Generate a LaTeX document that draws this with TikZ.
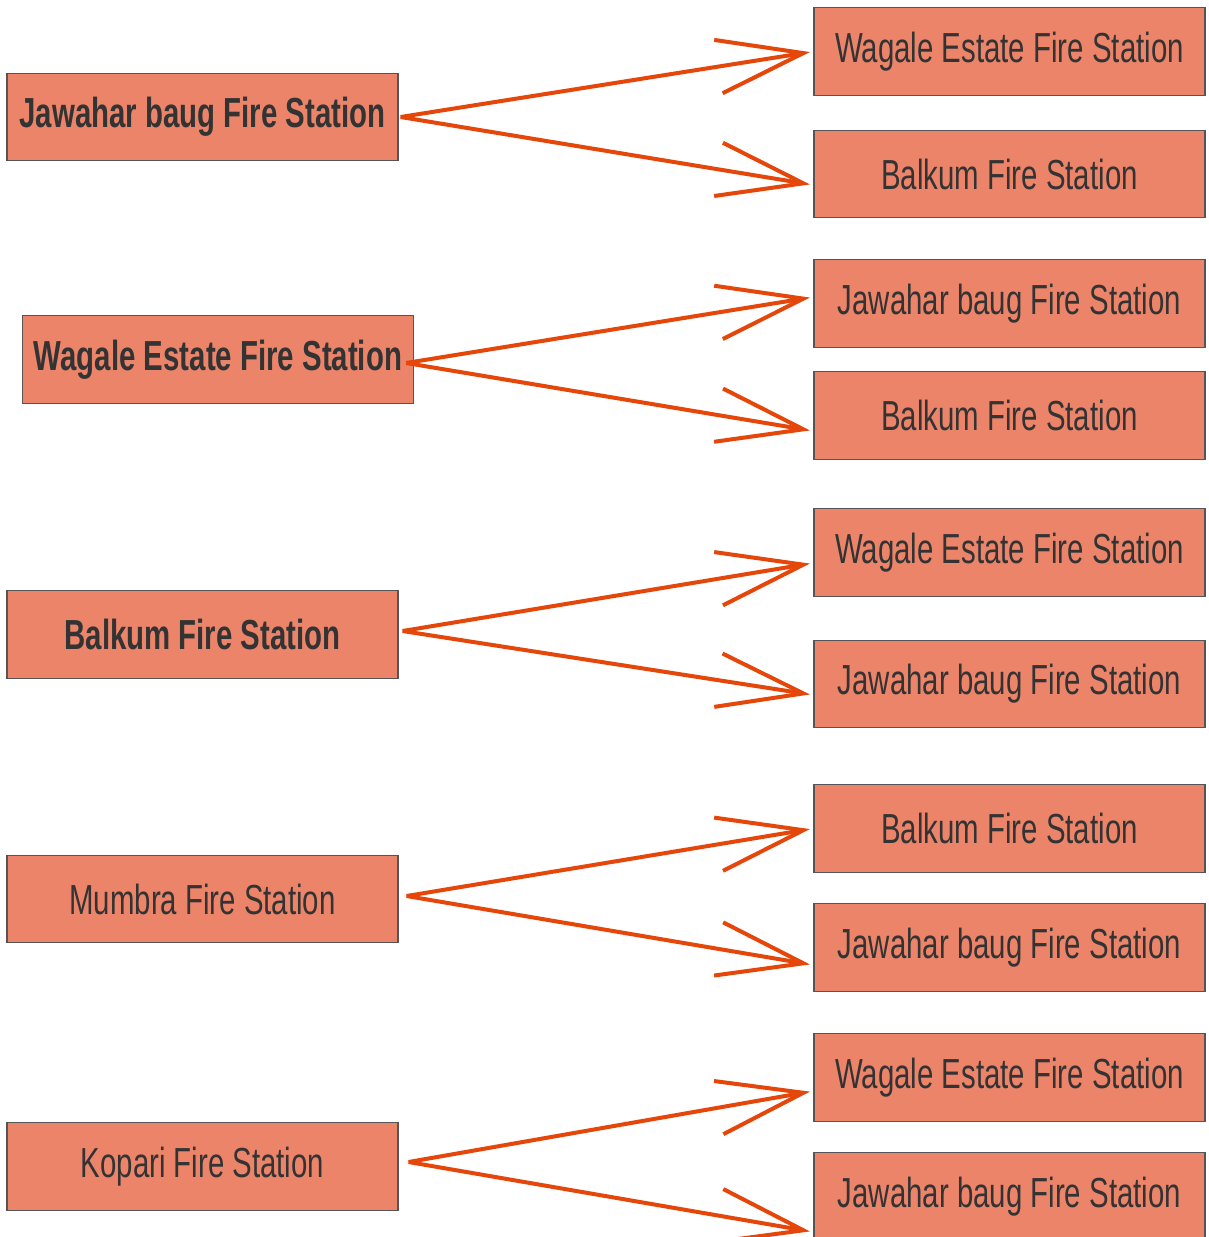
\documentclass[tikz,border=0pt]{standalone}
\usepackage{fontspec}
\setmainfont[FakeStretch=0.70]{Liberation Sans}
\usepackage{xcolor}
\usepackage{tikz}
\usetikzlibrary{arrows.meta,calc}

\definecolor{boxfill}{RGB}{236,132,106}
\definecolor{boxline}{RGB}{85,85,85}
\definecolor{linkcol}{RGB}{229,70,10}
\definecolor{txtcol}{RGB}{51,51,51}

\begin{document}
\begin{tikzpicture}[x=0.02cm, y=-0.02cm,
  station/.style={draw=boxline, line width=0.7pt, fill=boxfill, text=txtcol,
    minimum width=7.82cm, minimum height=1.75cm, inner sep=0pt,
    font=\fontsize{23.9}{28}\selectfont},
  source/.style={station, font=\fontsize{23.9}{28}\selectfont\bfseries},
  link/.style={draw=linkcol, line width=0.08cm, shorten >=2pt,
    -{Straight Barb[length=1.72cm, width=1.08cm]}}]
 \useasboundingbox (0,0) rectangle (1208,1237);
 % sources
 \node [source] (jb) at (202.5,117) {Jawahar baug Fire Station};
 \node [source] (we) at (218,359.5) {Wagale Estate Fire Station};
 \node [source] (bk) at (202.5,634.5) {Balkum Fire Station};
 \node [station] (mb) at (202.5,899) {Mumbra Fire Station};
 \node [station] (kp) at (202.5,1166.5) {Kopari Fire Station};
 % targets
 \node [station] (jbA) at (1009.5,51.5) {Wagale Estate Fire Station};
 \node [station] (jbB) at (1009.5,174) {Balkum Fire Station};
 \node [station] (weA) at (1009.5,303.5) {Jawahar baug Fire Station};
 \node [station] (weB) at (1009.5,415.5) {Balkum Fire Station};
 \node [station] (bkA) at (1009.5,552.5) {Wagale Estate Fire Station};
 \node [station] (bkB) at (1009.5,684) {Jawahar baug Fire Station};
 \node [station] (mbA) at (1009.5,828.5) {Balkum Fire Station};
 \node [station] (mbB) at (1009.5,947.5) {Jawahar baug Fire Station};
 \node [station] (kpA) at (1009.5,1077.5) {Wagale Estate Fire Station};
 \node [station] (kpB) at (1009.5,1196.5) {Jawahar baug Fire Station};
 % links
 \draw [link] ($(jb.east)+(2,0)$) -- (jbA.west);
 \draw [link] ($(jb.east)+(2,0)$) -- ($(jbB.west)+(0,11)$);
 \draw [link] ($(we.east)+(-8,3.5)$) -- ($(weA.west)+(0,-6.5)$);
 \draw [link] ($(we.east)+(-8,3.5)$) -- ($(weB.west)+(0,15.5)$);
 \draw [link] ($(bk.east)+(4,-3.5)$) -- ($(bkA.west)+(0,10.5)$);
 \draw [link] ($(bk.east)+(4,-3.5)$) -- ($(bkB.west)+(0,11)$);
 \draw [link] ($(mb.east)+(8,-3)$) -- (mbA.west);
 \draw [link] ($(mb.east)+(8,-3)$) -- ($(mbB.west)+(0,17.5)$);
 \draw [link] ($(kp.east)+(10,-4.5)$) -- ($(kpA.west)+(0,13.5)$);
 \draw [link] ($(kp.east)+(10,-4.5)$) -- ($(kpB.west)+(0,35.5)$);
\end{tikzpicture}
\end{document}
